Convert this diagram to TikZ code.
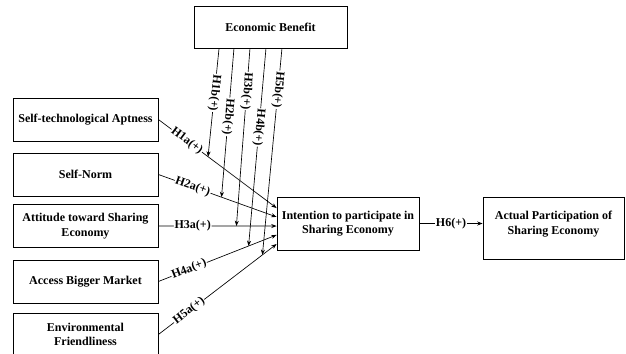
\documentclass[tikz,border=0pt]{standalone}
\usepackage{fontspec}
\setmainfont{Liberation Serif}
\usetikzlibrary{arrows.meta, positioning}

\begin{document}
\begin{tikzpicture}[x=0.75pt, y=-0.75pt,
    box/.style={rectangle, draw, line width=0.6pt, minimum width=108.75pt, minimum height=32.25pt, align=center, font=\fontsize{9}{11}\selectfont\bfseries},
    hyp/.style={fill=white, inner sep=0.6pt, font=\fontsize{9}{11}\selectfont\bfseries},
    arrow/.style={-{Stealth[length=4pt, width=3pt]}, line width=0.5pt}
]
\clip (0,0) rectangle (626,354);

\node[box, minimum width=114.75pt, minimum height=31.5pt] (benefit) at (270.5,27) {Economic Benefit};
\node[box] (aptness) at (85.5,119.5) {Self-technological Aptness};
\node[box] (norm) at (85.5,174.5) {Self-Norm};
\node[box] (attitude) at (85.5,226) {Attitude toward Sharing\\Economy};
\node[box] (market) at (85.5,281.5) {Access Bigger Market};
\node[box] (friendly) at (85.5,334.5) {Environmental\\Friendliness};
\node[box, minimum width=106.5pt, minimum height=39.75pt] (intention) at (348,223.5) {Intention to participate in\\Sharing Economy};
\node[box, minimum width=105.75pt, minimum height=46.5pt, text depth=8pt] (actual) at (553.5,228) {Actual Participation of\\Sharing Economy};

% direct effects on intention
\draw[arrow] (aptness.east) -- node[hyp, sloped, pos=0.24] {H1a(+)} coordinate[pos=0.42] (m1) ([yshift=11.6pt]intention.west);
\draw[arrow] (norm.east) -- node[hyp, sloped, pos=0.29] {H2a(+)} coordinate[pos=0.534] (m2) ([yshift=4.9pt]intention.west);
\draw[arrow] (attitude.east) -- node[hyp, sloped, pos=0.29] {H3a(+)} coordinate[pos=0.66] (m3) ([yshift=-1.9pt]intention.west);
\draw[arrow] (market.east) -- node[hyp, sloped, pos=0.26] {H4a(+)} coordinate[pos=0.763] (m4) ([yshift=-8.6pt]intention.west);
\draw[arrow] (friendly.east) -- node[hyp, sloped, pos=0.26] {H5a(+)} coordinate[pos=0.88] (m5) ([yshift=-15.4pt]intention.west);

% moderation by economic benefit
\draw[arrow] ([xshift=-38.6pt]benefit.south) -- node[hyp, sloped, allow upside down, pos=0.41] {H1b(+)} (m1);
\draw[arrow] ([xshift=-27.4pt]benefit.south) -- node[hyp, sloped, allow upside down, pos=0.46] {H2b(+)} (m2);
\draw[arrow] ([xshift=-15.4pt]benefit.south) -- node[hyp, sloped, allow upside down, pos=0.24] {H3b(+)} (m3);
\draw[arrow] ([xshift=-3.4pt]benefit.south) -- node[hyp, sloped, allow upside down, pos=0.4] {H4b(+)} (m4);
\draw[arrow] ([xshift=8.6pt]benefit.south) -- node[hyp, sloped, allow upside down, pos=0.2] {H5b(+)} (m5);

\draw[arrow] (intention.east) -- node[hyp] {H6(+)} (intention.east -| actual.west);

\end{tikzpicture}
\end{document}
